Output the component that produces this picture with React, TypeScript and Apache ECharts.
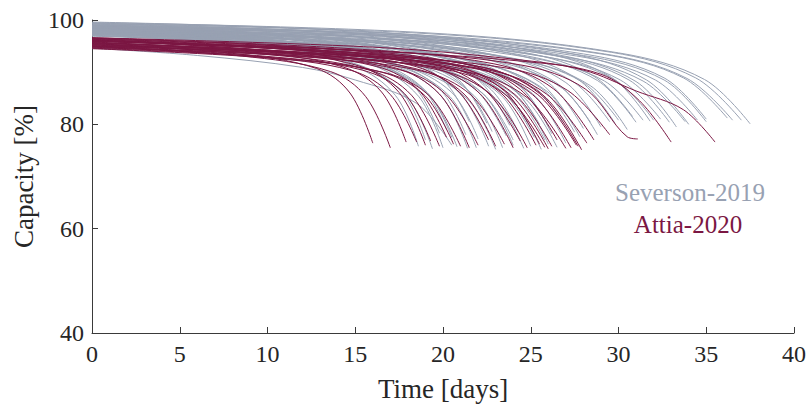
import React, { useEffect, useRef } from "react";
import * as echarts from "echarts";

// Tick values
const xTicks = [0, 5, 10, 15, 20, 25, 30, 35, 40];
const yTicks = [40, 60, 80, 100];

// Legend labels
const seriesNames = ["Severson-2019", "Attia-2020"];

// Severson-2019 capacity-fade curves: [time (days), capacity (%)]
const severson2019Curves: number[][][] = [
  [[0, 99.5], [18.8, 97.6], [30.0, 93.7], [34.9, 88.6], [37.5, 80.1]],
  [[0, 99.3], [18.5, 97.5], [29.6, 93.8], [34.4, 88.9], [37.0, 80.8]],
  [[0, 99.0], [18.3, 97.2], [29.2, 93.5], [33.9, 88.8], [36.5, 80.8]],
  [[0, 98.8], [18.1, 97.0], [29.0, 93.5], [33.7, 88.9], [36.2, 81.2]],
  [[0, 98.6], [17.5, 96.8], [28.0, 93.2], [32.6, 88.5], [35.0, 80.5]],
  [[0, 98.9], [17.5, 97.1], [28.0, 93.5], [32.6, 88.9], [35.0, 81.0]],
  [[0, 98.4], [17.3, 96.6], [27.6, 93.1], [32.1, 88.5], [34.5, 80.8]],
  [[0, 98.2], [16.9, 96.4], [27.0, 92.9], [31.4, 88.3], [33.8, 80.5]],
  [[0, 98.7], [16.5, 96.9], [26.3, 93.2], [30.6, 88.5], [32.9, 80.4]],
  [[0, 98.0], [16.2, 96.3], [25.9, 92.9], [30.1, 88.5], [32.4, 81.0]],
  [[0, 98.3], [16.0, 96.6], [25.6, 93.1], [29.8, 88.5], [32.0, 80.8]],
  [[0, 97.8], [15.7, 96.1], [25.1, 92.7], [29.2, 88.3], [31.4, 80.8]],
  [[0, 98.5], [15.5, 96.7], [24.8, 93.1], [28.8, 88.4], [31.0, 80.4]],
  [[0, 97.6], [15.0, 95.9], [24.0, 92.6], [27.9, 88.2], [30.0, 80.8]],
  [[0, 98.1], [14.8, 96.3], [23.6, 92.8], [27.4, 88.2], [29.5, 80.5]],
  [[0, 97.9], [14.2, 96.2], [22.7, 92.7], [26.4, 88.1], [28.4, 80.4]],
  [[0, 98.4], [13.7, 96.6], [21.9, 92.9], [25.5, 88.1], [27.4, 80.0]],
  [[0, 97.5], [13.4, 95.8], [21.4, 92.4], [24.9, 88.0], [26.8, 80.6]],
  [[0, 98.0], [12.8, 96.2], [20.4, 92.6], [23.7, 87.9], [25.5, 80.0]],
  [[0, 97.3], [12.4, 95.6], [19.8, 92.2], [23.1, 87.8], [24.8, 80.4]],
  [[0, 98.2], [14.4, 96.2], [23.0, 92.1], [26.8, 86.9], [28.8, 78.0]],
  [[0, 97.7], [13.9, 95.7], [22.2, 91.7], [25.9, 86.4], [27.8, 77.6]],
  [[0, 98.6], [13.1, 96.6], [21.0, 92.5], [24.4, 87.2], [26.2, 78.2]],
  [[0, 97.2], [12.6, 95.2], [20.2, 91.3], [23.4, 86.2], [25.2, 77.5]],
  [[0, 98.0], [12.2, 96.1], [19.4, 92.2], [22.6, 87.1], [24.3, 78.5]],
  [[0, 97.6], [11.8, 95.6], [18.9, 91.7], [21.9, 86.5], [23.6, 77.8]],
  [[0, 98.3], [11.4, 96.3], [18.2, 92.4], [21.2, 87.3], [22.8, 78.6]],
  [[0, 97.4], [11.0, 95.4], [17.6, 91.3], [20.5, 86.1], [22.0, 77.2]],
  [[0, 97.9], [10.7, 95.9], [17.0, 91.9], [19.8, 86.8], [21.3, 78.0]],
  [[0, 97.1], [10.3, 95.1], [16.4, 91.2], [19.1, 86.1], [20.5, 77.5]],
  [[0, 98.4], [9.9, 96.4], [15.8, 92.4], [18.4, 87.1], [19.8, 78.3]],
  [[0, 97.5], [9.5, 95.5], [15.2, 91.4], [17.7, 86.0], [19.0, 77.0]],
  [[0, 97.6], [9.7, 95.4], [15.5, 90.9], [18.0, 85.1], [19.4, 75.3]],
  [[0, 98.0], [10.0, 95.8], [16.0, 91.3], [18.6, 85.4], [20.0, 75.5]],
  [[0, 97.3], [10.4, 95.1], [16.6, 90.8], [19.3, 85.2], [20.8, 75.7]],
  [[0, 98.2], [10.7, 95.9], [17.1, 91.4], [19.9, 85.4], [21.4, 75.4]],
  [[0, 97.8], [11.0, 95.6], [17.5, 91.1], [20.4, 85.3], [21.9, 75.5]],
  [[0, 98.5], [11.3, 96.2], [18.1, 91.7], [21.0, 85.8], [22.6, 75.8]],
  [[0, 97.0], [11.5, 94.8], [18.4, 90.5], [21.4, 84.8], [23.0, 75.2]],
  [[0, 97.9], [11.7, 95.7], [18.7, 91.2], [21.8, 85.4], [23.4, 75.5]],
  [[0, 98.3], [12.0, 96.1], [19.2, 91.6], [22.3, 85.8], [24.0, 76.0]],
  [[0, 97.5], [12.3, 95.3], [19.7, 90.9], [22.9, 85.1], [24.6, 75.4]],
  [[0, 98.1], [12.5, 95.9], [20.0, 91.4], [23.3, 85.6], [25.0, 75.8]],
  [[0, 97.7], [12.8, 95.5], [20.5, 91.0], [23.8, 85.1], [25.6, 75.2]],
  [[0, 98.8], [13.0, 96.5], [20.8, 92.0], [24.2, 86.1], [26.0, 76.2]],
  [[0, 97.4], [13.3, 95.2], [21.2, 90.9], [24.6, 85.2], [26.5, 75.6]],
  [[0, 98.0], [13.5, 95.8], [21.6, 91.5], [25.1, 85.9], [27.0, 76.4]],
  [[0, 97.8], [9.3, 95.6], [14.9, 91.2], [17.3, 85.5], [18.6, 75.8]],
  [[0, 94.6], [6.0, 93.2], [12.0, 90.9], [15.0, 88.5], [18.5, 84.0], [20.5, 76.0]],
  [[0, 98.9], [14.5, 97.0], [23.2, 93.1], [27.0, 88.0], [29.0, 79.5]],
  [[0, 98.2], [15.3, 96.3], [24.4, 92.4], [28.4, 87.4], [30.5, 79.0]],
  [[0, 99.1], [14.0, 97.1], [22.4, 93.1], [26.0, 88.0], [28.0, 79.2]],
  [[0, 98.6], [13.0, 96.7], [20.8, 92.9], [24.2, 88.0], [26.0, 79.6]],
  [[0, 98.8], [11.9, 96.9], [19.0, 93.1], [22.1, 88.2], [23.8, 79.8]],
  [[0, 99.0], [11.3, 97.1], [18.0, 93.4], [20.9, 88.5], [22.5, 80.2]],
  [[0, 98.7], [10.8, 96.9], [17.2, 93.2], [20.0, 88.5], [21.5, 80.5]],
  [[0, 99.2], [16.7, 97.2], [26.6, 93.3], [31.0, 88.2], [33.3, 79.5]],
  [[0, 99.4], [17.0, 97.5], [27.2, 93.6], [31.6, 88.5], [34.0, 80.0]],
  [[0, 99.0], [15.4, 97.3], [24.6, 93.8], [28.6, 89.2], [30.8, 81.5]],
  [[0, 97.3], [10.1, 95.5], [16.2, 91.8], [18.8, 87.1], [20.2, 79.0]],
  [[0, 96.9], [12.0, 94.9], [19.2, 90.9], [22.3, 85.8], [24.0, 77.0]],
  [[0, 97.0], [12.9, 95.0], [20.6, 91.0], [24.0, 85.8], [25.8, 77.0]],
  [[0, 97.6], [13.8, 95.7], [22.0, 91.9], [25.6, 86.9], [27.5, 78.5]],
  [[0, 99.6], [15.9, 97.7], [25.4, 93.9], [29.6, 89.0], [31.8, 80.6]],
  [[0, 99.3], [14.9, 97.4], [23.8, 93.6], [27.7, 88.6], [29.8, 80.2]],
];

// Attia-2020 capacity-fade curves: [time (days), capacity (%)]
const attia2020Curves: number[][][] = [
  [[0, 95.5], [8.0, 93.6], [12.8, 90.7], [14.7, 86.0], [16.0, 76.4]],
  [[0, 95.0], [8.5, 93.1], [13.6, 90.1], [15.6, 85.3], [17.0, 75.5]],
  [[0, 95.8], [9.0, 93.9], [14.3, 91.0], [16.5, 86.2], [17.9, 76.6]],
  [[0, 94.8], [9.3, 93.0], [14.8, 90.3], [17.0, 85.7], [18.5, 76.6]],
  [[0, 96.2], [9.5, 94.2], [15.2, 91.2], [17.5, 86.1], [19.0, 76.0]],
  [[0, 95.3], [9.9, 93.4], [15.8, 90.4], [18.2, 85.6], [19.8, 75.8]],
  [[0, 94.6], [10.3, 92.8], [16.5, 90.0], [19.0, 85.4], [20.6, 76.2]],
  [[0, 96.0], [10.8, 94.0], [17.2, 90.9], [19.8, 85.8], [21.5, 75.5]],
  [[0, 95.2], [11.0, 93.3], [17.6, 90.4], [20.2, 85.6], [22.0, 76.0]],
  [[0, 95.7], [11.5, 93.7], [18.4, 90.7], [21.2, 85.8], [23.0, 75.8]],
  [[0, 94.9], [11.8, 93.0], [18.8, 90.2], [21.6, 85.6], [23.5, 76.2]],
  [[0, 96.3], [12.0, 94.2], [19.2, 91.1], [22.1, 85.9], [24.0, 75.5]],
  [[0, 95.4], [12.4, 93.4], [19.8, 90.4], [22.8, 85.5], [24.8, 75.5]],
  [[0, 96.0], [12.7, 94.0], [20.2, 91.0], [23.3, 86.0], [25.3, 76.0]],
  [[0, 95.0], [12.9, 93.1], [20.6, 90.2], [23.7, 85.3], [25.8, 75.6]],
  [[0, 95.6], [13.1, 93.6], [21.0, 90.7], [24.1, 85.7], [26.2, 75.8]],
  [[0, 96.4], [13.3, 94.5], [21.2, 91.6], [24.4, 86.7], [26.5, 77.0]],
  [[0, 94.7], [13.5, 92.8], [21.6, 89.9], [24.8, 85.1], [27.0, 75.4]],
  [[0, 95.9], [13.7, 93.9], [21.8, 90.8], [25.1, 85.7], [27.3, 75.5]],
  [[0, 95.3], [13.8, 93.4], [22.1, 90.5], [25.4, 85.7], [27.6, 76.0]],
  [[0, 96.1], [14.0, 94.0], [22.3, 90.9], [25.7, 85.6], [27.9, 75.1]],
  [[0, 95.1], [14.1, 93.2], [22.6, 90.4], [25.9, 85.8], [28.2, 76.4]],
  [[0, 96.5], [14.3, 94.6], [22.9, 91.6], [26.3, 86.8], [28.6, 77.0]],
  [[0, 96.0], [15.3, 94.2], [24.4, 91.4], [28.1, 86.8], [30.5, 77.6], [31.1, 77.2]],
  [[0, 96.0], [15.0, 94.2], [24.8, 92.0], [29.0, 89.6], [31.2, 84.5], [33.0, 76.6]],
  [[0, 96.6], [16.0, 94.8], [24.0, 92.5], [28.0, 90.4], [31.0, 86.4], [33.7, 82.8], [35.5, 76.6]],
  [[0, 95.6], [10.1, 93.8], [16.2, 91.1], [18.6, 86.6], [20.2, 77.5]],
  [[0, 96.2], [11.3, 94.3], [18.1, 91.4], [20.8, 86.6], [22.6, 77.0]],
  [[0, 95.0], [14.8, 93.3], [23.6, 90.8], [27.1, 86.5], [29.5, 78.0]],
  [[0, 94.5], [10.5, 92.6], [16.8, 89.8], [19.3, 85.2], [21.0, 75.8]],
  [[0, 96.4], [12.2, 94.4], [19.5, 91.5], [22.4, 86.6], [24.4, 76.8]],
  [[0, 95.6], [13.0, 93.6], [20.8, 90.5], [23.9, 85.5], [26.0, 75.3]],
  [[0, 94.9], [9.7, 93.1], [15.4, 90.4], [17.8, 85.9], [19.3, 76.8]],
  [[0, 96.0], [13.9, 94.0], [22.2, 91.0], [25.5, 85.9], [27.7, 75.8]],
  [[0, 96.6], [12.8, 94.6], [20.4, 91.5], [23.5, 86.4], [25.5, 76.2]],
];

const GRAY = "#98a1b2";
const MAROON = "#7b1743";
const TEXT = "#262626";
const AXIS = "#3a3a3a";
const FONT = "Liberation Serif";

export default function App() {
  const ref = useRef<HTMLDivElement>(null);

  useEffect(() => {
    if (!ref.current) return;
    const chart = echarts.init(ref.current, undefined, { renderer: "svg" });

    const makeSeries = (curves: number[][][], name: string, color: string) =>
      curves.map((c) => ({
        type: "line",
        name,
        data: c,
        showSymbol: false,
        symbol: "none",
        smooth: 0.35,
        silent: true,
        lineStyle: { color, width: 1 },
      }));

    chart.setOption({
      animation: false,
      grid: { left: 92, right: 16, top: 20, bottom: 76, containLabel: false },
      xAxis: {
        type: "value",
        min: xTicks[0],
        max: xTicks[xTicks.length - 1],
        interval: 5,
        name: "Time [days]",
        nameLocation: "middle",
        nameGap: 42,
        nameTextStyle: { fontFamily: FONT, fontSize: 27, color: TEXT },
        axisLine: { show: true, lineStyle: { color: AXIS, width: 1 } },
        axisTick: { show: true, inside: true, length: 6, lineStyle: { color: AXIS } },
        axisLabel: { fontFamily: FONT, fontSize: 24, color: TEXT, margin: 9 },
        splitLine: { show: false },
      },
      yAxis: {
        type: "value",
        min: yTicks[0],
        max: yTicks[yTicks.length - 1],
        interval: 20,
        name: "Capacity [%]",
        nameLocation: "middle",
        nameGap: 48,
        nameTextStyle: { fontFamily: FONT, fontSize: 27, color: TEXT },
        axisLine: { show: true, lineStyle: { color: AXIS, width: 1 } },
        axisTick: { show: true, inside: true, length: 6, lineStyle: { color: AXIS } },
        axisLabel: { fontFamily: FONT, fontSize: 24, color: TEXT, margin: 8 },
        splitLine: { show: false },
      },
      graphic: [
        {
          type: "text",
          x: 690,
          y: 192,
          style: {
            text: seriesNames[0],
            fill: GRAY,
            fontFamily: FONT,
            fontSize: 25,
            textAlign: "center",
            textVerticalAlign: "middle",
          },
        },
        {
          type: "text",
          x: 688,
          y: 224,
          style: {
            text: seriesNames[1],
            fill: MAROON,
            fontFamily: FONT,
            fontSize: 25,
            textAlign: "center",
            textVerticalAlign: "middle",
          },
        },
      ],
      series: [
        ...makeSeries(severson2019Curves, seriesNames[0], GRAY),
        ...makeSeries(attia2020Curves, seriesNames[1], MAROON),
      ],
    });

    return () => chart.dispose();
  }, []);

  return <div ref={ref} style={{ width: 810, height: 409, position: "absolute", left: 0, top: 0 }} />;
}
